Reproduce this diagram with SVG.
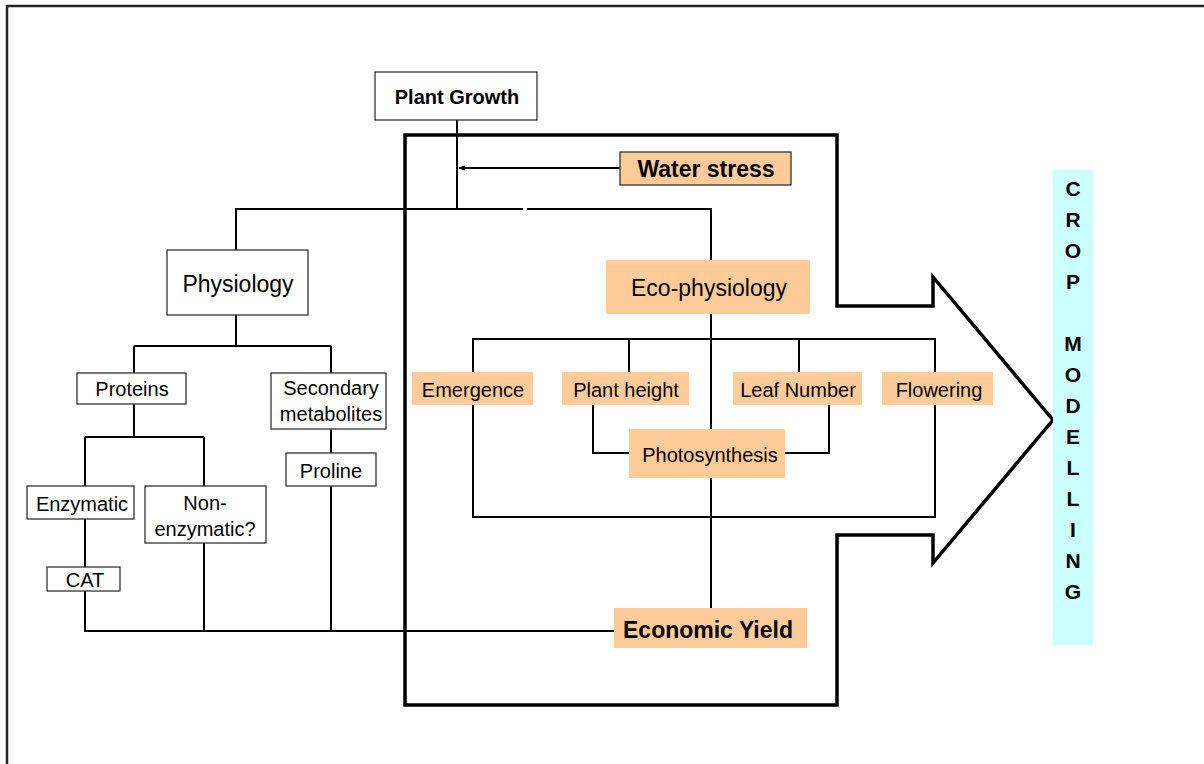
<svg xmlns="http://www.w3.org/2000/svg" width="1204" height="764" viewBox="0 0 1204 764">
<defs>
<style>
.t{font-family:"Liberation Sans",Arial,sans-serif;fill:#000;text-anchor:middle}
.n{font-size:20px}
.b{font-weight:bold}
.box{fill:#fff;stroke:#333;stroke-width:1.3}
.org{fill:#FFCC99}
.ln{fill:none;stroke:#000;stroke-width:2}
</style>
<marker id="ah" viewBox="0 0 10 10" refX="9" refY="5" markerWidth="7" markerHeight="7" orient="auto" markerUnits="userSpaceOnUse">
<path d="M0,1 L10,5 L0,9 z" fill="#000"/>
</marker>
</defs>
<rect width="1204" height="764" fill="#fff"/>
<path d="M7,770 V6 H1210" fill="none" stroke="#222" stroke-width="2.5"/>

<g id="big-arrow">
<path d="M405,135 H837 V306 H933 V277 L1053,420 L933,563 V535 H837 V705 H405 Z" fill="none" stroke="#000" stroke-width="3.5" stroke-linejoin="miter"/>
</g>

<g id="connectors">
<path class="ln" d="M457,120 V209"/>
<path class="ln" d="M236,250 V209 H523 M527,209 H711 V260"/>
<path class="ln" d="M620,168 H459" stroke-width="1.3" marker-end="url(#ah)"/>
<path class="ln" d="M236,315 V346 M134,346 H331 M134,346 V373 M331,346 V373"/>
<path class="ln" d="M134,404 V437 M85,437 H204 M85,437 V486 M204,437 V486"/>
<path class="ln" d="M85,519 V567 M85,591 V631 H614 M204,543 V631 M331,429 V453 M331,486 V631"/>
<path class="ln" d="M711,314 V429 M711,478 V608"/>
<path class="ln" d="M473,372 V339 H935 V372 M629,339 V372 M799,339 V372"/>
<path class="ln" d="M593,405 V453 H629 M829,405 V453 H785"/>
<path class="ln" d="M473,405 V517 H935 V405"/>
</g>

<g id="plant-growth">
<rect class="box" x="375" y="72" width="162" height="48"/>
<text class="t b" x="457" y="104" font-size="20">Plant Growth</text>
</g>
<g id="water-stress">
<rect x="620" y="152" width="171" height="33" fill="#FFCC99" stroke="#333" stroke-width="1.3"/>
<text class="t b" x="706" y="177" font-size="23">Water stress</text>
</g>
<g id="physiology">
<rect class="box" x="167" y="250" width="141" height="65"/>
<text class="t" x="238" y="292" font-size="23">Physiology</text>
</g>
<g id="proteins">
<rect class="box" x="77" y="373" width="109" height="31"/>
<text class="t n" x="132" y="396">Proteins</text>
</g>
<g id="secondary-metabolites">
<rect class="box" x="271" y="373" width="115" height="56"/>
<text class="t n" x="331" y="395">Secondary</text>
<text class="t n" x="331" y="421">metabolites</text>
</g>
<g id="proline">
<rect class="box" x="286" y="453" width="90" height="33"/>
<text class="t n" x="331" y="478">Proline</text>
</g>
<g id="enzymatic">
<rect class="box" x="27" y="486" width="107" height="33"/>
<text class="t n" x="82" y="511">Enzymatic</text>
</g>
<g id="non-enzymatic">
<rect class="box" x="145" y="486" width="121" height="57"/>
<text class="t n" x="205" y="510">Non-</text>
<text class="t n" x="205" y="536">enzymatic?</text>
</g>
<g id="cat">
<rect class="box" x="47" y="567" width="73" height="24"/>
<text class="t n" x="85" y="587">CAT</text>
</g>
<g id="eco-physiology">
<rect class="org" x="606" y="260" width="204" height="54"/>
<text class="t" x="709" y="296" font-size="23">Eco-physiology</text>
</g>
<g id="emergence">
<rect class="org" x="412" y="372" width="121" height="33"/>
<text class="t n" x="473" y="397">Emergence</text>
</g>
<g id="plant-height">
<rect class="org" x="562" y="372" width="127" height="33"/>
<text class="t n" x="626" y="397">Plant height</text>
</g>
<g id="leaf-number">
<rect class="org" x="733" y="372" width="129" height="33"/>
<text class="t n" x="798" y="397">Leaf Number</text>
</g>
<g id="flowering">
<rect class="org" x="882" y="372" width="111" height="33"/>
<text class="t n" x="939" y="397">Flowering</text>
</g>
<g id="photosynthesis">
<rect class="org" x="629" y="429" width="156" height="49"/>
<text class="t n" x="710" y="462">Photosynthesis</text>
</g>
<g id="economic-yield">
<rect class="org" x="614" y="608" width="193" height="40"/>
<text class="t b" x="708" y="638" font-size="23">Economic Yield</text>
</g>
<g id="crop-modelling">
<rect x="1053" y="170" width="40" height="475" fill="#CCFFFF"/>
<g class="t b" font-size="21">
<text x="1073" y="196">C</text>
<text x="1073" y="227">R</text>
<text x="1073" y="258">O</text>
<text x="1073" y="289">P</text>
<text x="1073" y="351">M</text>
<text x="1073" y="382">O</text>
<text x="1073" y="413">D</text>
<text x="1073" y="444">E</text>
<text x="1073" y="475">L</text>
<text x="1073" y="506">L</text>
<text x="1073" y="537">I</text>
<text x="1073" y="568">N</text>
<text x="1073" y="599">G</text>
</g>
</g>
</svg>
